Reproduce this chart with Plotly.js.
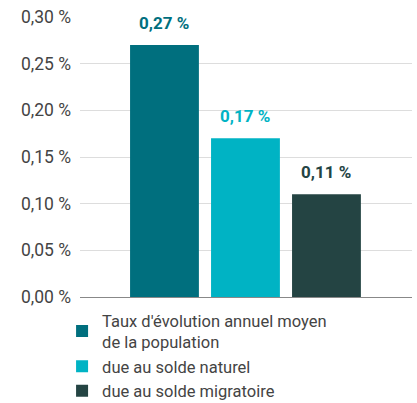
<!DOCTYPE html>
<html>
<head>
<meta charset="utf-8">
<script src="https://cdn.plot.ly/plotly-3.0.1.min.js"></script>
<style>html,body{margin:0;padding:0;background:#fff}#chart{width:417px;height:403px}</style>
</head>
<body>
<div id="chart"></div>
<script>
const seriesNames = ["Taux d'évolution annuel moyen<br>de la population", "due au solde naturel", "due au solde migratoire"];
const seriesValues = [0.27, 0.17, 0.11];
const seriesLabels = ["0,27 %", "0,17 %", "0,11 %"];
const seriesColors = ["#006f7e", "#00b3c4", "#244443"];
const yTickValues = [0, 0.05, 0.10, 0.15, 0.20, 0.25, 0.30];
const yTickLabels = ["0,00 %", "0,05 %", "0,10 %", "0,15 %", "0,20 %", "0,25 %", "0,30 %"];

const traces = seriesNames.map((name, i) => ({
  type: 'bar',
  name: name,
  x: [i],
  y: [seriesValues[i]],
  width: 0.85,
  marker: {color: seriesColors[i]},
  hoverinfo: 'none'
}));

const annotations = seriesValues.map((v, i) => ({
  x: i, y: v, xref: 'x', yref: 'y',
  text: '<b>' + seriesLabels[i] + '</b>',
  showarrow: false, yanchor: 'middle', yshift: 22,
  font: {family: 'Roboto', size: 17, color: seriesColors[i]}
}));

const layout = {
  width: 417, height: 403,
  margin: {l: 80, r: 5, t: 17, b: 106, autoexpand: false},
  paper_bgcolor: '#fff', plot_bgcolor: '#fff',
  font: {family: 'Roboto', size: 17, color: '#444'},
  barmode: 'overlay',
  showlegend: true,
  xaxis: {range: [-1.043, 3.056], showticklabels: false, showgrid: false, zeroline: false, fixedrange: true},
  yaxis: {range: [0, 0.30], tickvals: yTickValues, ticktext: yTickLabels,
          gridcolor: '#dddddd', gridwidth: 1, zeroline: true, zerolinecolor: '#888', zerolinewidth: 1,
          ticks: '', ticklabelstandoff: 8, tickfont: {family: 'Roboto', size: 17.5, color: '#444'}},
  legend: {orientation: 'v', x: -0.054, xanchor: 'left', y: -0.022, yanchor: 'top',
           font: {family: 'Roboto', size: 16.5, color: '#444'}, tracegroupgap: 0, itemclick: false},
  annotations: annotations
};

Plotly.newPlot('chart', traces, layout, {displayModeBar: false, staticPlot: true});
</script>
</body>
</html>
